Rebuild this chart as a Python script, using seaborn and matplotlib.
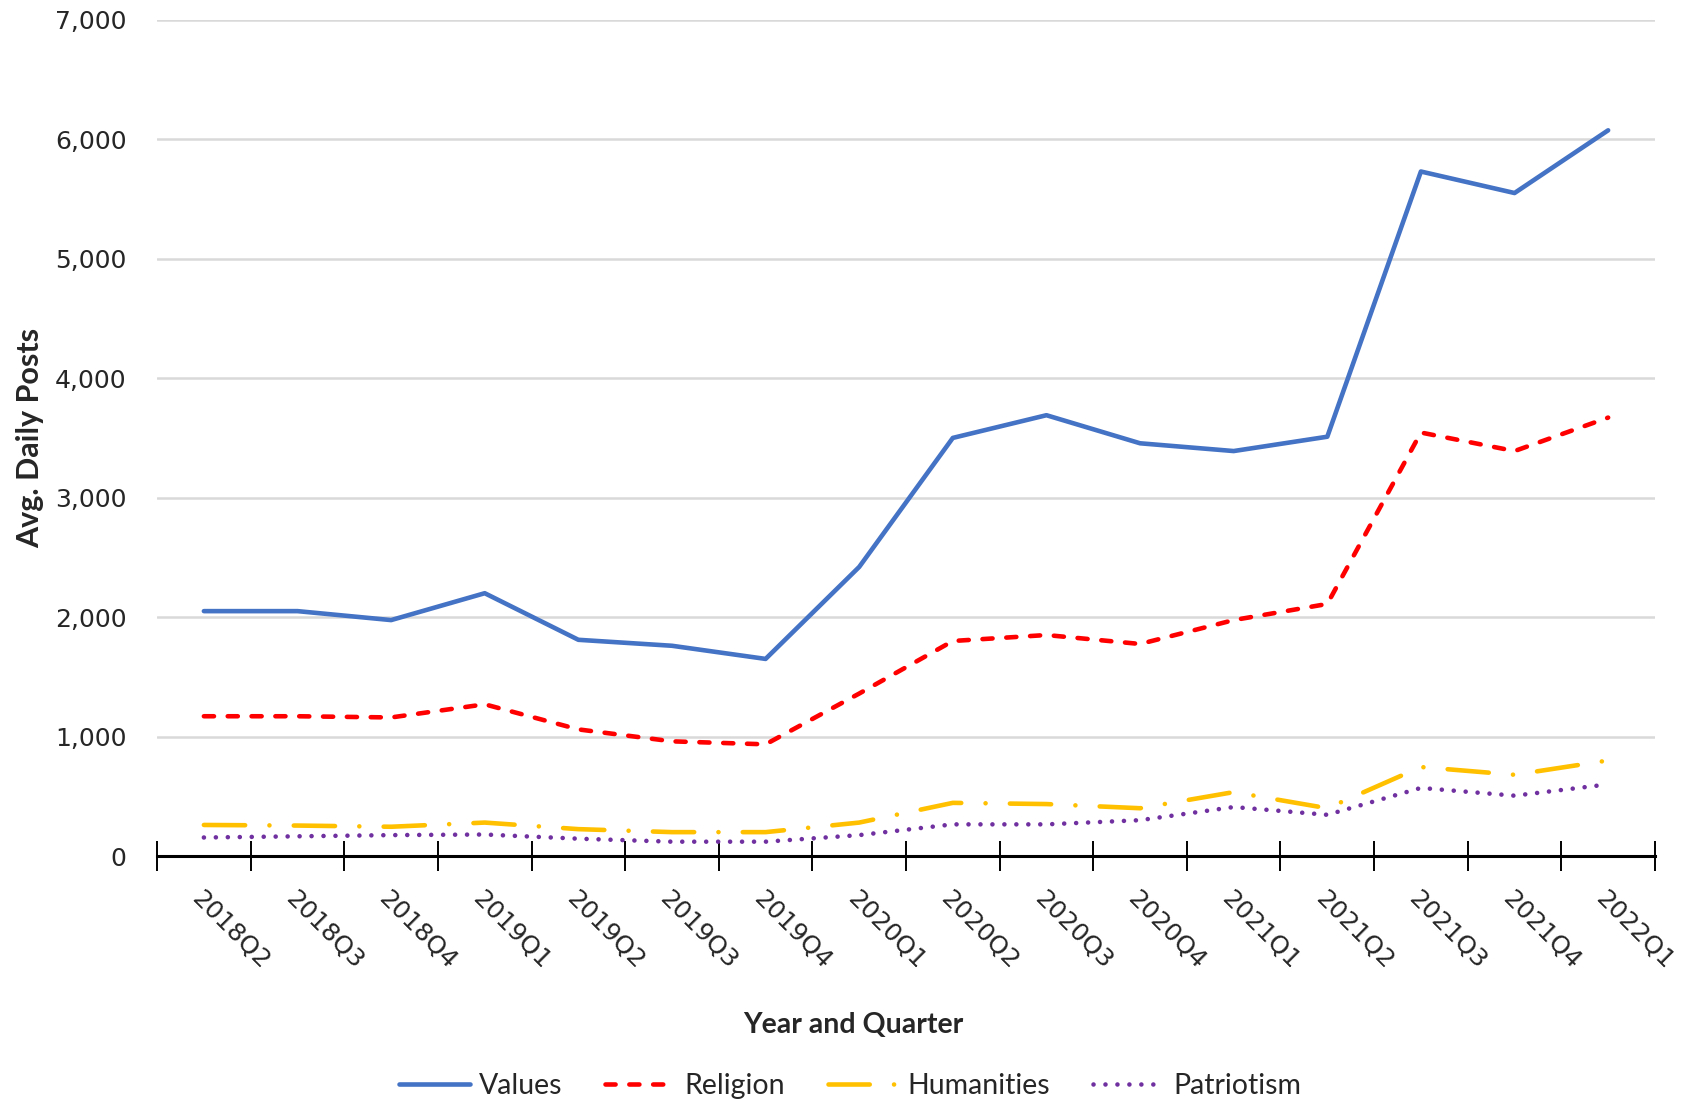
import numpy as np
import pandas as pd
import matplotlib
matplotlib.use("Agg")
import matplotlib.pyplot as plt
import seaborn as sns
from matplotlib.ticker import FuncFormatter, MultipleLocator

# ── Data ───────────────────────────────────────────────────────────────────
quarters = ["2018Q2", "2018Q3", "2018Q4", "2019Q1", "2019Q2", "2019Q3",
            "2019Q4", "2020Q1", "2020Q2", "2020Q3", "2020Q4", "2021Q1",
            "2021Q2", "2021Q3", "2021Q4", "2022Q1"]

values = [2050, 2050, 1975, 2200, 1810, 1760, 1650, 2420,
          3500, 3690, 3455, 3390, 3510, 5730, 5550, 6075]
religion = [1170, 1170, 1160, 1270, 1060, 960, 935, 1360,
            1800, 1850, 1775, 1975, 2110, 3545, 3390, 3670]
humanities = [260, 255, 245, 280, 225, 200, 200, 280,
              445, 435, 400, 535, 400, 745, 680, 800]
patriotism = [155, 165, 175, 180, 145, 120, 120, 175,
              265, 265, 300, 410, 345, 570, 505, 600]

series_names = ["Values", "Religion", "Humanities", "Patriotism"]
colors = {"Values": "#4472C4", "Religion": "#FF0000",
          "Humanities": "#FFC000", "Patriotism": "#7030A0"}
dashes = {"Values": "", "Religion": (2.2, 3.0),
          "Humanities": (9.0, 5.3, 0.01, 5.3), "Patriotism": (0.01, 2.6)}

df = pd.DataFrame({
    "quarter": quarters * 4,
    "pos": list(range(len(quarters))) * 4,
    "series": np.repeat(series_names, len(quarters)),
    "posts": values + religion + humanities + patriotism,
})

# ── Plot ───────────────────────────────────────────────────────────────────
sns.set_style("white")
plt.rcParams["font.family"] = ["DejaVu Sans"]

fig = plt.figure(figsize=(17, 11), dpi=100)
ax = fig.add_axes([0.0924, 0.2218, 0.8811, 0.7602])

for name in series_names:
    sub = df[df["series"] == name]
    sns.lineplot(data=sub, x="pos", y="posts", ax=ax, color=colors[name],
                 linewidth=3.3, label=name, legend=False)
    line = ax.lines[-1]
    if dashes[name]:
        line.set_dashes(dashes[name])
    line.set_dash_capstyle("round")
    line.set_solid_capstyle("round")

ax.set_ylim(0, 7000)
ax.set_xlim(-0.5, len(quarters) - 0.5)
ax.yaxis.set_major_locator(MultipleLocator(1000))
ax.yaxis.set_major_formatter(FuncFormatter(lambda v, p: f"{int(v):,}"))
ax.grid(axis="y", color="#d9d9d9", linewidth=1.8)
ax.set_axisbelow(True)

for side in ["top", "right", "left"]:
    ax.spines[side].set_visible(False)
ax.spines["bottom"].set_linewidth(2.2)
ax.spines["bottom"].set_color("black")

# ticks sit between categories, like an Excel category axis
ax.set_xticks(range(len(quarters)))
ax.set_xticks(np.arange(-0.5, len(quarters), 1.0), minor=True)
ax.tick_params(axis="x", which="both", bottom=True)
ax.tick_params(axis="x", which="major", length=0, pad=22)
ax.tick_params(axis="x", which="minor", length=21, width=1.4,
               direction="inout", color="black")
ax.tick_params(axis="y", length=0, labelsize=18, pad=22)
ax.set_xticklabels(quarters, rotation=-45, ha="left", va="top",
                   rotation_mode="anchor", fontsize=18)

ax.set_xlabel("Year and Quarter", fontsize=20.5, fontweight="bold",
              family=["Lato", "DejaVu Sans"])
ax.set_ylabel("Avg. Daily Posts", fontsize=22, fontweight="bold",
              family=["Lato", "DejaVu Sans"])
ax.xaxis.set_label_coords(0.4646, -0.186)
ax.yaxis.set_label_coords(-0.0754, 0.5)

handles = ax.lines[-4:]
fig.legend(handles, series_names, loc="center", bbox_to_anchor=(0.5, 0.013),
           ncol=4, frameon=False, handlelength=2.5,
           columnspacing=1.5, handletextpad=0.3,
           prop={"family": ["Lato", "DejaVu Sans"], "size": 20.5})

fig.savefig("out.png", dpi=100)
plt.close(fig)
